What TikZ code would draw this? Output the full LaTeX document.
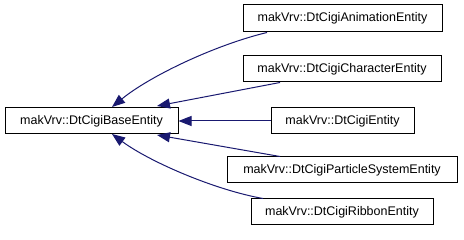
\documentclass[tikz,border=0pt]{standalone}
\usepackage{fontspec}
\setmainfont{Liberation Sans}
\usetikzlibrary{arrows.meta}
\definecolor{edgeblue}{RGB}{25,25,112}
\begin{document}
\begin{tikzpicture}[x=1pt,y=-1pt,
  box/.style={draw=black, fill=white, line width=1pt, inner sep=0pt,
    minimum height=26pt, font=\fontsize{12.5}{14}\selectfont},
  edge/.style={draw=edgeblue, line width=1pt,
    {Triangle[length=13pt,width=10pt]}-}]
\useasboundingbox (0,0) rectangle (464,240);
\node[box, minimum width=173pt] (base) at (91.5,121) {makVrv::DtCigiBaseEntity};
\node[box, minimum width=199pt, minimum height=27pt] (anim) at (342.5,18.5) {makVrv::DtCigiAnimationEntity};
\node[box, minimum width=198pt] (char) at (342,69) {makVrv::DtCigiCharacterEntity};
\node[box, minimum width=143pt] (ent) at (342.5,121) {makVrv::DtCigiEntity};
\node[box, minimum width=230pt] (part) at (342,170) {makVrv::DtCigiParticleSystemEntity};
\node[box, minimum width=182pt] (rib) at (342,212) {makVrv::DtCigiRibbonEntity};
\coordinate (tA) at (112,107);
\coordinate (tC) at (157,106);
\coordinate (tP) at (157,135);
\coordinate (tR) at (112,134);
\draw[edge] (tA) .. controls (150,76) and (215,45) .. ([xshift=-75.5pt]anim.south);
\draw[edge] (tC) -- ([xshift=-62pt]char.south);
\draw[edge] (base.east) -- (ent.west);
\draw[edge] (tP) -- ([xshift=-62pt]part.north);
\draw[edge] (tR) .. controls (150,162) and (215,190) .. ([xshift=-79pt]rib.north);
\end{tikzpicture}
\end{document}
